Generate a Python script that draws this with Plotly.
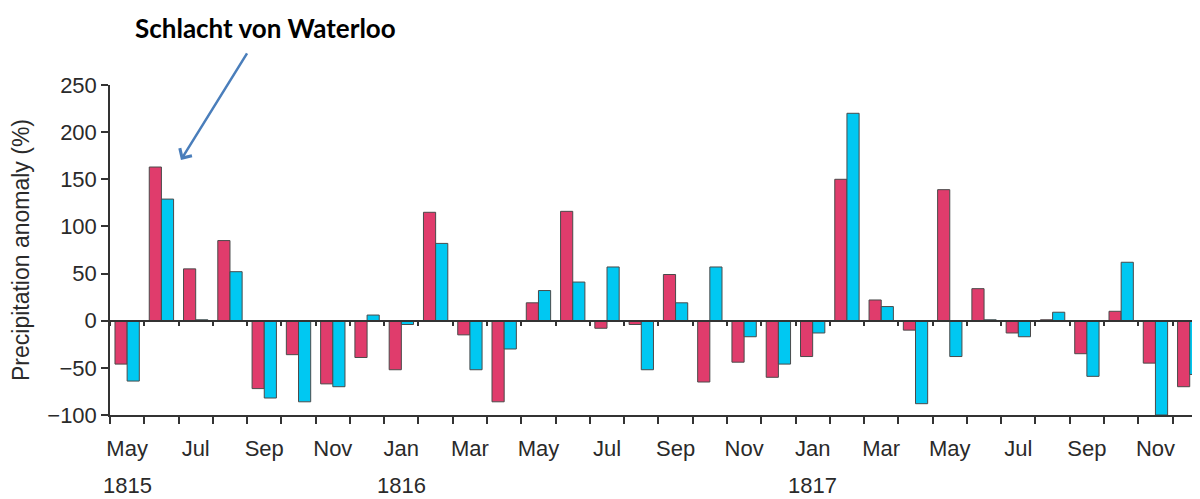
import plotly.graph_objects as go

months = ["May 1815", "Jun 1815", "Jul 1815", "Aug 1815", "Sep 1815", "Oct 1815", "Nov 1815", "Dec 1815",
          "Jan 1816", "Feb 1816", "Mar 1816", "Apr 1816", "May 1816", "Jun 1816", "Jul 1816", "Aug 1816",
          "Sep 1816", "Oct 1816", "Nov 1816", "Dec 1816", "Jan 1817", "Feb 1817", "Mar 1817", "Apr 1817",
          "May 1817", "Jun 1817", "Jul 1817", "Aug 1817", "Sep 1817", "Oct 1817", "Nov 1817", "Dec 1817"]
tick_text = ["May", "", "Jul", "", "Sep", "", "Nov", "",
             "Jan", "", "Mar", "", "May", "", "Jul", "",
             "Sep", "", "Nov", "", "Jan", "", "Mar", "",
             "May", "", "Jul", "", "Sep", "", "Nov", ""]
series_a = [-46, 163, 55, 85, -72, -36, -67, -39,
            -52, 115, -15, -86, 19, 116, -8, -4,
            49, -65, -44, -60, -38, 150, 22, -10,
            139, 34, -13, 1, -35, 10, -45, -70]
series_b = [-64, 129, 1, 52, -82, -86, -70, 6,
            -4, 82, -52, -30, 32, 41, 57, -52,
            19, 57, -17, -46, -13, 220, 15, -88,
            -38, 1, -17, 9, -59, 62, -100, -57]
year_labels = {"May 1815": "1815", "Jan 1816": "1816", "Jan 1817": "1817"}

RED = "#E03C6C"
CYAN = "#00C8F2"
AXIS = "#333333"
TXT = "#2a2a2a"
FONT = "Liberation Sans, Arial, sans-serif"

fig = go.Figure()
fig.add_trace(go.Bar(x=months, y=series_a, marker=dict(color=RED, line=dict(color="#4a4a4a", width=1)),
                     showlegend=False))
fig.add_trace(go.Bar(x=months, y=series_b, marker=dict(color=CYAN, line=dict(color="#4a4a4a", width=1)),
                     showlegend=False))
# invisible trace to carry the zero-line axis with month ticks
fig.add_trace(go.Scatter(x=months, y=[0] * len(months), xaxis="x2", mode="markers",
                         marker=dict(opacity=0), hoverinfo="skip", showlegend=False))

xr = [-0.5, 31.3]
fig.update_layout(
    width=1192, height=491,
    margin=dict(l=102, r=0, t=77, b=84, autoexpand=False),
    paper_bgcolor="white", plot_bgcolor="white",
    barmode="group", bargap=0.29, bargroupgap=0,
    font=dict(family=FONT, color=TXT, size=22),
    xaxis=dict(type="category", categoryorder="array", categoryarray=months, range=xr,
               tickmode="array", tickvals=months, ticktext=tick_text, tickson="boundaries",
               ticks="outside", ticklen=7, tickwidth=1.5, tickcolor=AXIS, tickangle=0, automargin=False,
               showline=True, linecolor=AXIS, linewidth=1.5, showgrid=False, zeroline=False,
               tickfont=dict(size=22, color=TXT), ticklabelstandoff=13),
    xaxis2=dict(type="category", categoryorder="array", categoryarray=months, range=xr,
                overlaying="x", anchor="free", position=100 / 350, automargin=False,
                tickmode="array", tickvals=months, ticktext=[""] * len(months), tickson="boundaries",
                ticks="outside", ticklen=5, tickwidth=1.5, tickcolor=AXIS, tickangle=0,
                showline=True, linecolor=AXIS, linewidth=1.5, showgrid=False, zeroline=False),
    yaxis=dict(range=[-100, 250], tickmode="array", tickvals=[-100, -50, 0, 50, 100, 150, 200, 250],
               ticks="outside", ticklen=7, tickwidth=1.5, tickcolor=AXIS, automargin=False,
               showline=True, linecolor=AXIS, linewidth=1.5, showgrid=False, zeroline=False,
               tickfont=dict(size=22, color=TXT),
               title=dict(text="Precipitation anomaly (%)", font=dict(size=23, color=TXT), standoff=14)),
)

for m, yr in year_labels.items():
    fig.add_annotation(x=m, y=-0.215, xref="x", yref="paper", text=yr, showarrow=False,
                       font=dict(size=22, color=TXT, family=FONT), yanchor="middle", xanchor="center")

fig.add_annotation(x=0.143, y=1.173, xref="paper", yref="paper", text="<b>Schlacht von Waterloo</b>",
                   showarrow=False, xanchor="center", yanchor="middle",
                   font=dict(size=26, color="black", family="Lato, Open Sans, sans-serif"))
fig.add_annotation(x=0.0651, y=0.773, xref="paper", yref="paper", text="", showarrow=True,
                   ax=67, ay=-108, arrowhead=4, arrowsize=1.1, arrowwidth=2.5, arrowcolor="#4A7EBB")

fig.write_html("out.html")
